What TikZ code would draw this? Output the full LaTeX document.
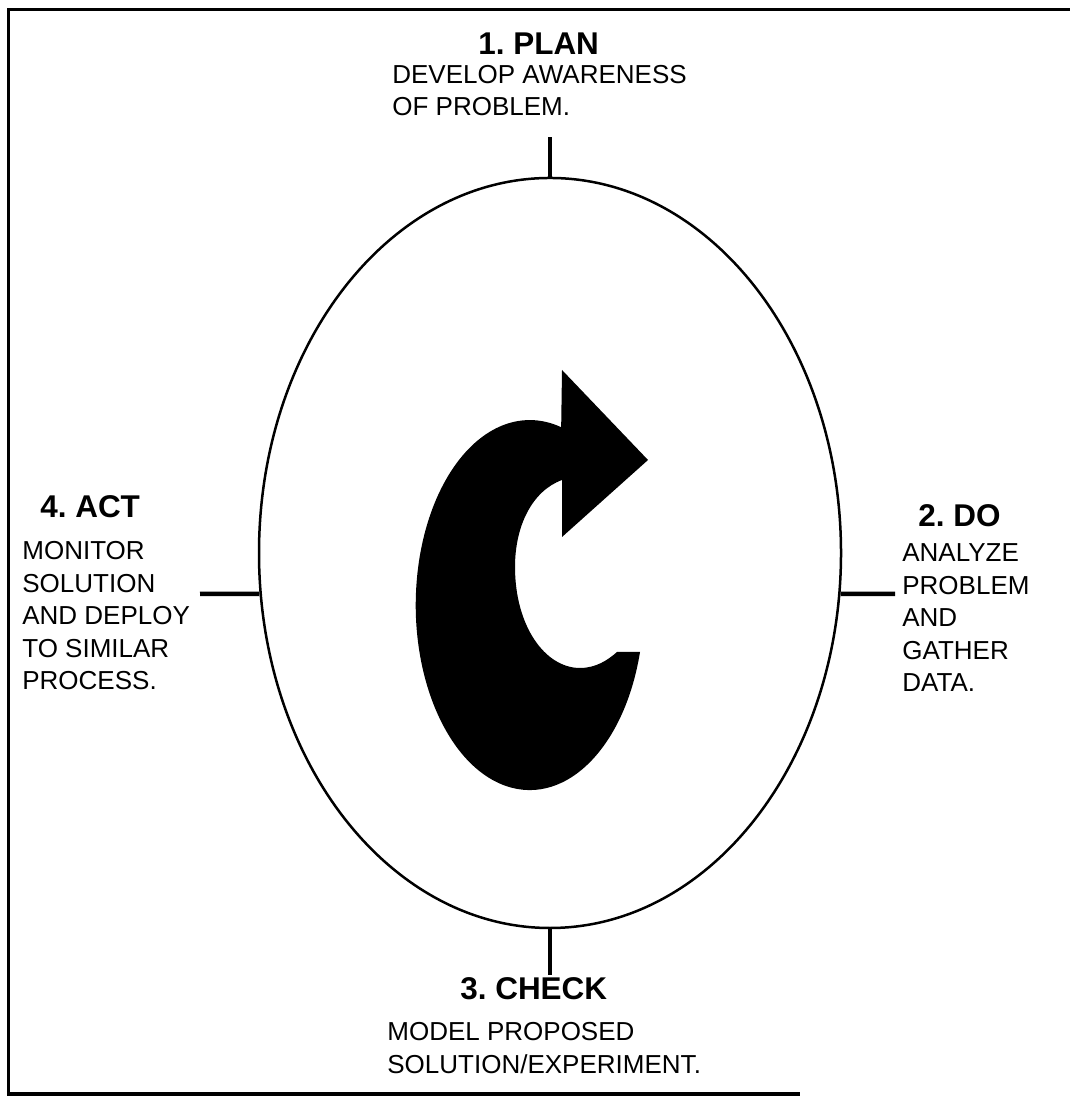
\documentclass[tikz,border=0pt]{standalone}
\usepackage{fontspec}
\setmainfont{Liberation Sans}
\usepackage{tikz}
\usetikzlibrary{shapes.geometric, positioning}
\frenchspacing
\tikzstyle{phasetitle} = [anchor=base west, inner sep=0pt, font=\fontsize{17.9}{21}\selectfont\bfseries]
\tikzstyle{phasetext} = [anchor=base west, inner sep=0pt, align=left, font=\fontsize{14.8}{18.5}\selectfont]
\tikzstyle{tick} = [line width=0.9mm]
\tikzstyle{loop} = [ellipse, draw=black, line width=0.5mm, minimum width=116.4mm, minimum height=150mm, inner sep=0pt]

\begin{document}
\begin{tikzpicture}[x=0.2mm, y=0.2mm]
\useasboundingbox (0,0) rectangle (1070,1096);

% frame, open on the right
\draw [line width=0.6mm] (1070,1086) -- (8,1086) -- (8,2) -- (800,2);

% the cycle
\node (cycle) [loop] at (550,543) {};

% curved arrow in the middle
\fill (617,444) -- (640,444) arc[start angle=-14.7, end angle=-286, x radius=114, y radius=185]
  -- (562,726) -- (648,636) -- (562,559) -- (562,616)
  .. controls (532,605) and (515,570) .. (515,529)
  .. controls (515,470) and (545,428) .. (580,428)
  .. controls (596,428) and (608,436) .. (617,444) -- cycle;

% tick ends
\coordinate (planend) at (550,959);
\coordinate (doend) at (895,502);
\coordinate (checkend) at (550,121);
\coordinate (actend) at (200,502);

\draw [tick] (cycle.north) -- (planend);
\draw [tick] (cycle.352) -- (doend);
\draw [tick] (cycle.south) -- (checkend);
\draw [tick] (cycle.188) -- (actend);

% phases (base of a text block = its last line)
\node (plantitle) [phasetitle] at (478,1041) {1. PLAN};
\node (plantext) [phasetext] at (392,980) {DEVELOP AWARENESS\\OF PROBLEM.};

\node (dotitle) [phasetitle] at (918,569) {2. DO};
\node (dotext) [phasetext] at (902,404) {ANALYZE\\PROBLEM\\AND\\GATHER\\DATA.};

\node (checktitle) [phasetitle] at (460,96) {3. CHECK};
\node (checktext) [phasetext] at (387,23) {MODEL PROPOSED\\SOLUTION/EXPERIMENT.};

\node (acttitle) [phasetitle] at (40,578) {4. ACT};
\node (acttext) [phasetext] at (22,406) {MONITOR\\SOLUTION\\AND DEPLOY\\TO SIMILAR\\PROCESS.};

\end{tikzpicture}
\end{document}
